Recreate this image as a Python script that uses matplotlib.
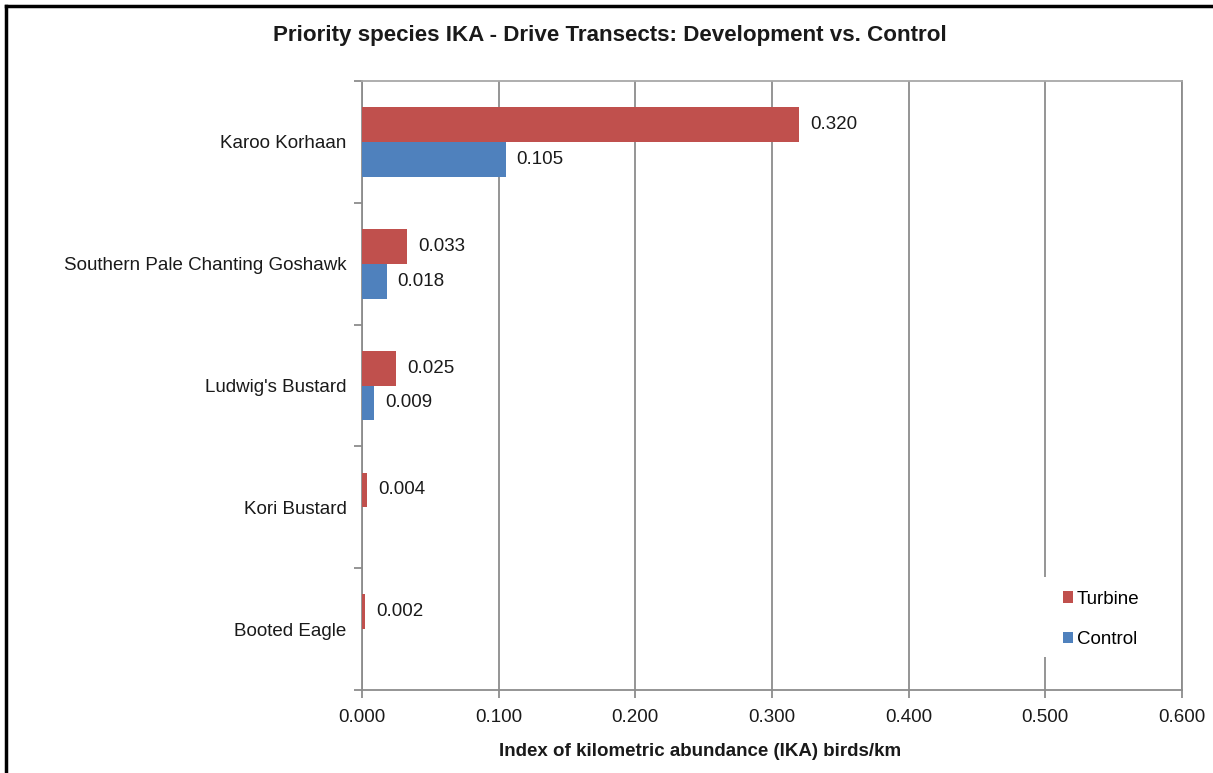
import matplotlib
matplotlib.use("Agg")
import matplotlib.pyplot as plt
import numpy as np
from matplotlib.lines import Line2D
from matplotlib.patches import Patch, Rectangle

species = ["Karoo Korhaan", "Southern Pale Chanting Goshawk", "Ludwig's Bustard",
           "Kori Bustard", "Booted Eagle"]
turbine = [0.320, 0.033, 0.025, 0.004, 0.002]
control = [0.105, 0.018, 0.009, None, None]
x_ticks = [0.0, 0.1, 0.2, 0.3, 0.4, 0.5, 0.6]

RED = "#C0504D"
BLUE = "#4F81BD"
GRID = "#8C8C8C"

plt.rcParams["font.family"] = ["Liberation Sans", "DejaVu Sans"]

fig = plt.figure(figsize=(12.13, 7.73), dpi=100)
ax = fig.add_axes([362 / 1213, 1 - 690 / 773, 820 / 1213, 609 / 773])

n = len(species)
centers = np.arange(n)
h = 1 / 3.5  # Excel-style 150% gap width

for i in range(n):
    t = turbine[i]
    c = control[i]
    ax.barh(centers[i] - h / 2, t, height=h, color=RED, zorder=3)
    ax.annotate(f"{t:.3f}", (t, centers[i] - h / 2), xytext=(8, 0),
                textcoords="offset points", va="center", ha="left",
                fontsize=13.5, color="#1a1a1a")
    if c is not None:
        ax.barh(centers[i] + h / 2, c, height=h, color=BLUE, zorder=3)
        ax.annotate(f"{c:.3f}", (c, centers[i] + h / 2), xytext=(8, 0),
                    textcoords="offset points", va="center", ha="left",
                    fontsize=13.5, color="#1a1a1a")

ax.set_xlim(0, 0.6)
ax.set_ylim(n - 0.5, -0.5)

ax.set_xticks(x_ticks)
ax.set_xticklabels([f"{v:.3f}" for v in x_ticks], fontsize=13.5, color="#1a1a1a")
ax.tick_params(axis="x", which="major", direction="out", length=6, width=1.3,
               color=GRID, pad=8)
ax.xaxis.grid(True, color=GRID, linewidth=1.3, zorder=0)
ax.set_axisbelow(True)

ax.set_yticks(centers)
ax.set_yticklabels(species, fontsize=13.5, color="#1a1a1a")
ax.tick_params(axis="y", which="major", length=0, pad=11)
ax.set_yticks(np.arange(-0.5, n, 1.0), minor=True)
ax.tick_params(axis="y", which="minor", direction="out", length=6, width=1.3,
               color=GRID)

for side in ["left", "bottom", "right", "top"]:
    ax.spines[side].set_color(GRID)
    ax.spines[side].set_linewidth(1.3)
ax.spines["top"].set_color("#A8A8A8")

fig.text(700 / 1213, 1 - 752 / 773, "Index of kilometric abundance (IKA) birds/km",
         ha="center", va="center", fontsize=13.5, fontweight="bold", color="#1a1a1a")

fig.text(0.503, 1 - 35 / 773, "Priority species IKA - Drive Transects: Development vs. Control",
         ha="center", va="center", fontsize=16.1, fontweight="bold", color="#1a1a1a")

# white legend panel that masks the gridline behind it
ax.add_patch(Rectangle((0.827, 0.054), 0.134, 0.132, transform=ax.transAxes,
                       facecolor="white", edgecolor="none", zorder=2))

handles = [Patch(facecolor=RED, edgecolor="none"), Patch(facecolor=BLUE, edgecolor="none")]
leg = ax.legend(handles, ["Turbine", "Control"], loc="lower right",
                bbox_to_anchor=(0.973, 0.035), frameon=False, fontsize=13.5,
                handlelength=0.55, handleheight=0.55, handletextpad=0.2,
                labelspacing=1.25, borderpad=0.6)
leg.set_zorder(5)

# outer frame along the top and left edges
fig.add_artist(Line2D([6 / 1213, 1.0], [1 - 6 / 773, 1 - 6 / 773],
                      transform=fig.transFigure, color="black", linewidth=2.5))
fig.add_artist(Line2D([6 / 1213, 6 / 1213], [0.0, 1 - 6 / 773],
                      transform=fig.transFigure, color="black", linewidth=2.5))

fig.savefig("out.png", dpi=100, facecolor="white")
